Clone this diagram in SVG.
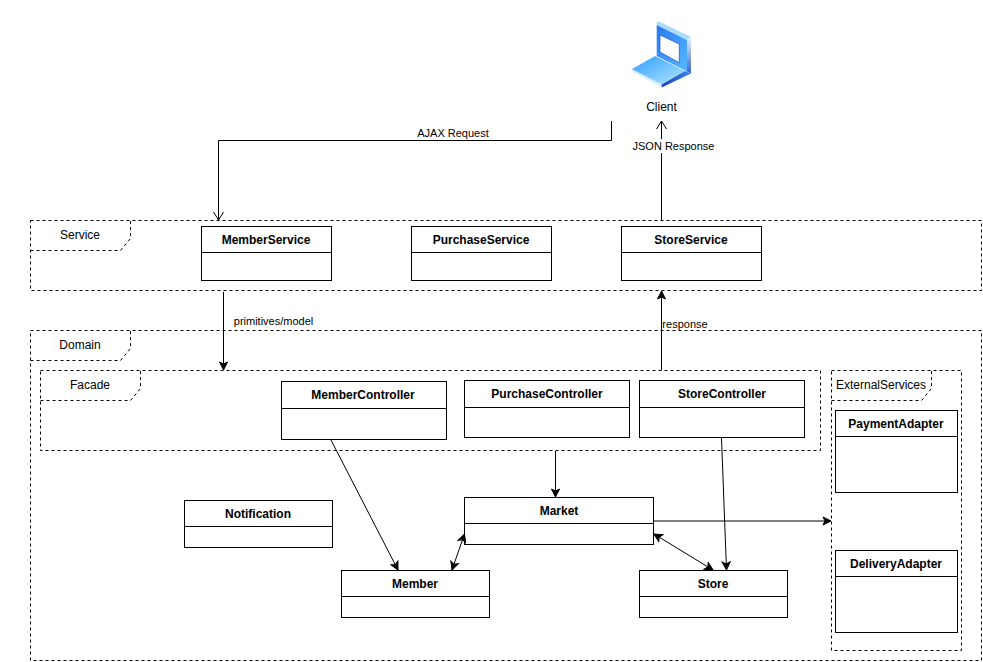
<svg xmlns="http://www.w3.org/2000/svg" width="983" height="662" viewBox="0 0 983 662">
<style>
.frame{fill:none;stroke:#000;stroke-width:1;stroke-dasharray:3 3}
.box{fill:#fff;stroke:#000;stroke-width:1}
.div{stroke:#000;stroke-width:1;fill:none}
.t{font-family:"Liberation Sans",Arial,sans-serif;font-size:12px;fill:#000;text-anchor:middle}
.b{font-weight:bold}
.c{fill:none;stroke:#000;stroke-width:1}
</style>
<defs>
<marker id="open" markerWidth="12" markerHeight="12" viewBox="0 0 12 12" refX="10" refY="6" orient="auto" markerUnits="userSpaceOnUse"><path d="M2 1 L10 6 L2 11" fill="none" stroke="#000"/></marker>
<marker id="fill" markerWidth="10" markerHeight="10" viewBox="0 0 10 10" refX="9" refY="5" orient="auto-start-reverse" markerUnits="userSpaceOnUse"><path d="M1 1 L9 5 L1 9 L3 5 Z" fill="#000" stroke="#000"/></marker>
<linearGradient id="g1" x1="0" y1="0" x2="1" y2="1"><stop offset="0" stop-color="#2a78f2"/><stop offset="1" stop-color="#56b8ff"/></linearGradient>
<linearGradient id="g2" x1="0" y1="0" x2="1" y2="1"><stop offset="0" stop-color="#2f9dff"/><stop offset="1" stop-color="#b5e8ff"/></linearGradient>
<linearGradient id="g4" x1="0" y1="0" x2="0" y2="1"><stop offset="0" stop-color="#e6f6ff"/><stop offset="1" stop-color="#2f62d0"/></linearGradient>
<linearGradient id="g5" x1="0" y1="0" x2="1" y2="0"><stop offset="0" stop-color="#1c3fc0"/><stop offset="1" stop-color="#3f8cec"/></linearGradient>
</defs>

<g id="service-frame">
<rect class="frame" x="30.500" y="220.500" width="951" height="70"/>
<path class="frame" d="M30.500 250.500H120.500L130.500 238.500V220.500"/>
<text class="t" x="80" y="239">Service</text>
</g>
<g id="domain-frame">
<rect class="frame" x="30.500" y="330.500" width="951" height="330"/>
<path class="frame" d="M30.500 360.500H120.500L130.500 348.500V330.500"/>
<text class="t" x="80" y="349">Domain</text>
</g>
<g id="facade-frame">
<rect class="frame" x="40.500" y="370.500" width="780" height="80"/>
<path class="frame" d="M40.500 400.500H130.500L140.500 388.500V370.500"/>
<text class="t" x="90" y="389">Facade</text>
</g>
<g id="external-frame">
<rect class="frame" x="831.500" y="370.500" width="130" height="280"/>
<path class="frame" d="M831.500 400.500H921.500L931.500 388.500V370.500"/>
<text class="t" x="881" y="389">ExternalServices</text>
</g>

<g id="client">
<polygon points="656.700,22 659,21.500 691,37 687,40 656.700,25" fill="#a9dcff"/>
<polygon points="687,40 691,37 691,73.500 687,71.500" fill="url(#g4)"/>
<polygon points="656.700,25 687,40 687,71.500 656.700,56" fill="url(#g1)"/>
<polygon points="660,35 679.300,44 679.300,62.700 660,52" fill="#fff" stroke="#1b50c8" stroke-width="0.700"/>
<polygon points="655,56 685,71 661.700,84.500 631.700,69.300" fill="url(#g2)"/>
<polygon points="631.700,69.300 661.700,84.500 661.700,87.500 631.700,71" fill="#d5efff"/>
<polygon points="661.700,84.500 685,71 691,73.500 661.700,87.500" fill="url(#g5)"/>
<text class="t" x="661.500" y="111">Client</text>
</g>

<g id="MemberService"><rect class="box" x="201.500" y="226.500" width="130" height="54"/><path class="div" d="M201.500 252.500H331.500"/><text class="t b" x="266" y="244">MemberService</text></g>
<g id="PurchaseService"><rect class="box" x="411.500" y="226.500" width="140" height="54"/><path class="div" d="M411.500 252.500H551.500"/><text class="t b" x="481" y="244">PurchaseService</text></g>
<g id="StoreService"><rect class="box" x="621.500" y="226.500" width="140" height="54"/><path class="div" d="M621.500 252.500H761.500"/><text class="t b" x="691" y="244">StoreService</text></g>
<g id="MemberController"><rect class="box" x="281.500" y="381.500" width="165" height="58"/><path class="div" d="M281.500 408.500H446.500"/><text class="t b" x="363" y="399">MemberController</text></g>
<g id="PurchaseController"><rect class="box" x="464.500" y="380.500" width="165" height="57"/><path class="div" d="M464.500 407.500H629.500"/><text class="t b" x="547" y="398">PurchaseController</text></g>
<g id="StoreController"><rect class="box" x="639.500" y="380.500" width="165" height="57"/><path class="div" d="M639.500 407.500H804.500"/><text class="t b" x="722" y="398">StoreController</text></g>
<g id="PaymentAdapter"><rect class="box" x="835.500" y="410.500" width="122" height="82"/><path class="div" d="M835.500 436.500H957.500"/><text class="t b" x="896" y="428">PaymentAdapter</text></g>
<g id="DeliveryAdapter"><rect class="box" x="835.500" y="550.500" width="122" height="82"/><path class="div" d="M835.500 576.500H957.500"/><text class="t b" x="896" y="568">DeliveryAdapter</text></g>
<g id="Notification"><rect class="box" x="184.500" y="500.500" width="148" height="47"/><path class="div" d="M184.500 526.500H332.500"/><text class="t b" x="258" y="518">Notification</text></g>
<g id="Market"><rect class="box" x="464.500" y="497.500" width="189" height="47"/><path class="div" d="M464.500 523.500H653.500"/><text class="t b" x="559" y="515">Market</text></g>
<g id="Member"><rect class="box" x="341.500" y="570.500" width="148" height="47"/><path class="div" d="M341.500 596.500H489.500"/><text class="t b" x="415" y="588">Member</text></g>
<g id="Store"><rect class="box" x="639.500" y="570.500" width="148" height="47"/><path class="div" d="M639.500 596.500H787.500"/><text class="t b" x="713" y="588">Store</text></g>

<g id="connectors">
<path class="c" d="M611.500 121V140.500H218.500V220" marker-end="url(#open)"/>
<path class="c" d="M661.500 220V121" marker-end="url(#open)"/>
<path class="c" d="M223.500 292V370" marker-end="url(#fill)"/>
<path class="c" d="M661.500 370V291" marker-end="url(#fill)"/>
<path class="c" d="M331 440L398 570" marker-end="url(#fill)"/>
<path class="c" d="M555.500 451V497" marker-end="url(#fill)"/>
<path class="c" d="M721.500 438L726.500 570" marker-end="url(#fill)"/>
<path class="c" d="M654 521H831" marker-end="url(#fill)"/>
<path class="c" d="M464.500 534L452 570" marker-start="url(#fill)" marker-end="url(#fill)"/>
<path class="c" d="M654 534L713 570" marker-start="url(#fill)" marker-end="url(#fill)"/>
<rect x="416" y="126" width="74" height="14" fill="#fff"/>
<text class="t" x="453" y="137" style="font-size:11px">AJAX Request</text>
<rect x="632" y="139" width="84" height="14" fill="#fff"/>
<text class="t" x="673.500" y="150" style="font-size:11px">JSON Response</text>
<text class="t" x="273.500" y="325" style="font-size:11px">primitives/model</text>
<text class="t" x="685" y="328" style="font-size:11px">response</text>
</g>
</svg>
